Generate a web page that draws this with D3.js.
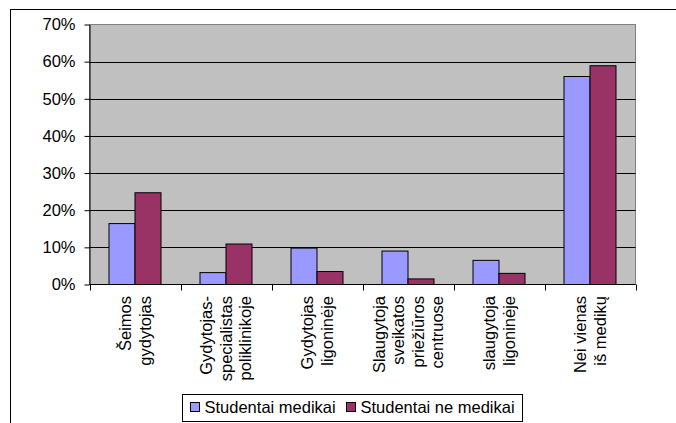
<!DOCTYPE html>
<html>
<head>
<meta charset="utf-8">
<script src="https://cdn.jsdelivr.net/npm/d3@7/dist/d3.min.js"></script>
<style>
  html, body { margin: 0; padding: 0; background: #fff; }
  svg { display: block; }
  text { font-family: "Liberation Sans", Arial, sans-serif; fill: #000; }
</style>
</head>
<body>
<svg id="chart" width="676" height="423"></svg>
<script>
// Category labels (line breaks as shown under the axis)
const categories = [
  ["Šeimos", "gydytojas"],
  ["Gydytojas-", "specialistas", "poliklinikoje"],
  ["Gydytojas", "ligoninėje"],
  ["Slaugytoja", "sveikatos", "priežiūros", "centruose"],
  ["slaugytoja", "ligoninėje"],
  ["Nei vienas", "iš medikų"]
];
const seriesNames = ["Studentai medikai", "Studentai ne medikai"];
// Percent values per category
const medikai    = [16.4, 3.2, 9.8, 9.0, 6.5, 56.0];
const neMedikai  = [24.7, 10.9, 3.5, 1.5, 3.0, 58.9];
const yTicks = [0, 10, 20, 30, 40, 50, 60, 70];
const seriesColors = ["#9999FF", "#993366"];

const seriesValues = [medikai, neMedikai];
const catKeys = categories.map((c, i) => i);

const svg = d3.select("#chart");
const FONT = 16.5;

// Outer chart frame (runs past the right and bottom edges)
svg.append("rect")
  .attr("x", 10.5).attr("y", 9.5)
  .attr("width", 800).attr("height", 600)
  .attr("fill", "#fff").attr("stroke", "#000").attr("stroke-width", 1);

const plot = { left: 89.5, right: 635.5, top: 24.5, bottom: 284.5 };

const x = d3.scaleBand().domain(catKeys).range([plot.left, plot.right]).paddingInner(0).paddingOuter(0);
const xs = d3.scaleBand().domain([0, 1]).range([0, x.bandwidth()]).paddingInner(0).paddingOuter(0.75);
const y = d3.scaleLinear().domain([0, 70]).range([plot.bottom, plot.top]);

// Plot background
svg.append("rect")
  .attr("x", plot.left).attr("y", plot.top)
  .attr("width", plot.right - plot.left).attr("height", plot.bottom - plot.top)
  .attr("fill", "#C0C0C0").attr("stroke", "#808080").attr("stroke-width", 1);

// Gridlines
svg.append("g").selectAll("line")
  .data(yTicks.filter(t => t > 0 && t < 70))
  .join("line")
  .attr("x1", plot.left).attr("x2", plot.right)
  .attr("y1", d => Math.round(y(d)) + 0.5).attr("y2", d => Math.round(y(d)) + 0.5)
  .attr("stroke", "#000").attr("stroke-width", 1);

// Bars
const groups = svg.append("g").selectAll("g")
  .data(catKeys)
  .join("g")
  .attr("transform", d => `translate(${x(d)},0)`);

groups.selectAll("rect")
  .data(ci => seriesValues.map((vals, si) => ({ si, v: vals[ci] })))
  .join("rect")
  .attr("x", d => xs(d.si))
  .attr("width", xs.bandwidth())
  .attr("y", d => y(d.v))
  .attr("height", d => y(0) - y(d.v))
  .attr("fill", d => seriesColors[d.si])
  .attr("stroke", "#000").attr("stroke-width", 1);

// Y axis
const yAxis = svg.append("g")
  .attr("transform", `translate(${plot.left},0)`)
  .call(d3.axisLeft(y).tickValues(yTicks).tickFormat(d => d + "%").tickSize(5).tickSizeOuter(0).tickPadding(9));
yAxis.select(".domain").attr("stroke", "#000");
yAxis.selectAll(".tick line").attr("stroke", "#000");
yAxis.selectAll(".tick text")
  .style("font-family", '"Liberation Sans", Arial, sans-serif')
  .style("font-size", FONT + "px").attr("fill", "#000");

// X axis: baseline and boundary ticks between categories
const xAxis = svg.append("g");
xAxis.append("line")
  .attr("x1", plot.left).attr("x2", plot.right)
  .attr("y1", plot.bottom).attr("y2", plot.bottom)
  .attr("stroke", "#000");
const boundaries = catKeys.map(k => x(k)).concat([x(catKeys[catKeys.length - 1]) + x.bandwidth()]);
xAxis.selectAll("line.tk")
  .data(boundaries)
  .join("line").attr("class", "tk")
  .attr("x1", d => Math.round(d) + 0.5).attr("x2", d => Math.round(d) + 0.5)
  .attr("y1", plot.bottom).attr("y2", plot.bottom + 6)
  .attr("stroke", "#000");

// Rotated category labels
const LH = 19.5;
const labels = svg.append("g").selectAll("text")
  .data(catKeys)
  .join("text")
  .attr("transform", d => `translate(${x(d) + x.bandwidth() / 2},296) rotate(-90)`)
  .attr("text-anchor", "end")
  .style("font-size", FONT + "px");
labels.selectAll("tspan")
  .data(d => categories[d].map((t, i, arr) => ({ t, off: (i - (arr.length - 1) / 2) * LH })))
  .join("tspan")
  .attr("x", 0)
  .attr("y", d => d.off)
  .attr("dy", "0.35em")
  .text(d => d.t);

// Legend
const legend = svg.append("g");
legend.append("rect")
  .attr("x", 182.5).attr("y", 394.5).attr("width", 340).attr("height", 27)
  .attr("fill", "#fff").attr("stroke", "#000");
const legendPos = [190.5, 346.5];
seriesNames.forEach((name, i) => {
  legend.append("rect")
    .attr("x", legendPos[i]).attr("y", 402.5).attr("width", 9).attr("height", 9)
    .attr("fill", seriesColors[i]).attr("stroke", "#000");
  legend.append("text")
    .attr("x", legendPos[i] + 14).attr("y", 407)
    .attr("dy", "0.35em")
    .style("font-size", FONT + "px")
    .text(name);
});
</script>
</body>
</html>
